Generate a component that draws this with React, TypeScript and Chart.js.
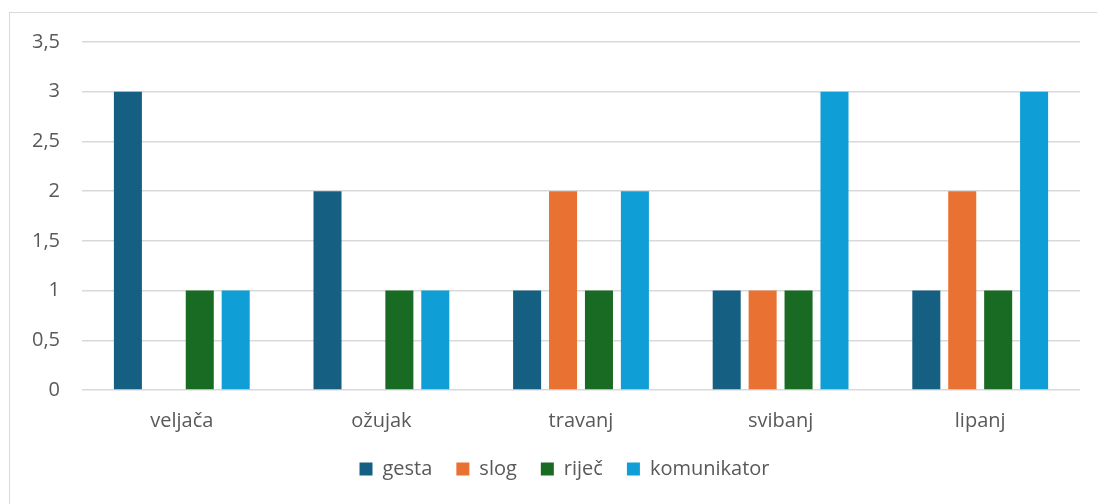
import React, { useEffect, useRef } from "react";
import { Chart, registerables } from "chart.js";

Chart.register(...registerables);

const months = ["veljača", "ožujak", "travanj", "svibanj", "lipanj"];
const gesta = [3, 2, 1, 1, 1];
const slog = [0, 0, 2, 1, 2];
const rijec = [1, 1, 1, 1, 1];
const komunikator = [1, 1, 2, 3, 3];

const FONT = "'Open Sans', 'Liberation Sans', sans-serif";
const TEXT = "#595959";

export default function App() {
  const ref = useRef<HTMLCanvasElement | null>(null);

  useEffect(() => {
    document.body.style.margin = "0";
    const ctx = ref.current!.getContext("2d")!;
    const chart = new Chart(ctx, {
      type: "bar",
      data: {
        labels: months,
        datasets: [
          { label: "gesta", data: gesta, backgroundColor: "#156082" },
          { label: "slog", data: slog, backgroundColor: "#E97132" },
          { label: "riječ", data: rijec, backgroundColor: "#196B24" },
          { label: "komunikator", data: komunikator, backgroundColor: "#0F9ED5" },
        ],
      },
      options: {
        animation: false,
        responsive: false,
        maintainAspectRatio: false,
        layout: { padding: { left: 32, right: 0, top: 42, bottom: 15 } },
        datasets: {
          bar: { categoryPercentage: 0.72, barPercentage: 0.78 },
        },
        scales: {
          x: {
            afterFit: (s: any) => {
              s.paddingRight = 17;
              s.height = s.height - 17;
            },
            grid: { display: false, drawTicks: false },
            border: { display: false },
            ticks: { color: TEXT, font: { family: FONT, size: 20 }, padding: 19 },
          },
          y: {
            min: 0,
            max: 3.5,
            afterFit: (s: any) => {
              s.width = 50;
            },
            grid: { color: "#d9d9d9", lineWidth: 1.5, drawTicks: false },
            border: { display: false },
            ticks: {
              stepSize: 0.5,
              color: TEXT,
              padding: 22,
              font: { family: FONT, size: 20 },
              callback: (v: any) => String(v).replace(".", ","),
            },
          },
        },
        plugins: {
          tooltip: { enabled: false },
          legend: {
            position: "bottom",
            labels: {
              boxWidth: 13,
              boxHeight: 13,
              padding: 24,
              color: TEXT,
              font: { family: FONT, size: 20 },
            },
          },
        },
      },
    });
    return () => chart.destroy();
  }, []);

  return (
    <div style={{ position: "relative", width: 1097, height: 504, overflow: "hidden", background: "#fff" }}>
      <div
        style={{
          position: "absolute",
          left: 9,
          top: 12,
          width: 1100,
          height: 520,
          border: "1.5px solid #d9d9d9",
          boxSizing: "border-box",
        }}
      />
      <canvas ref={ref} width={1097} height={504} style={{ position: "absolute", left: 0, top: 0 }} />
    </div>
  );
}
